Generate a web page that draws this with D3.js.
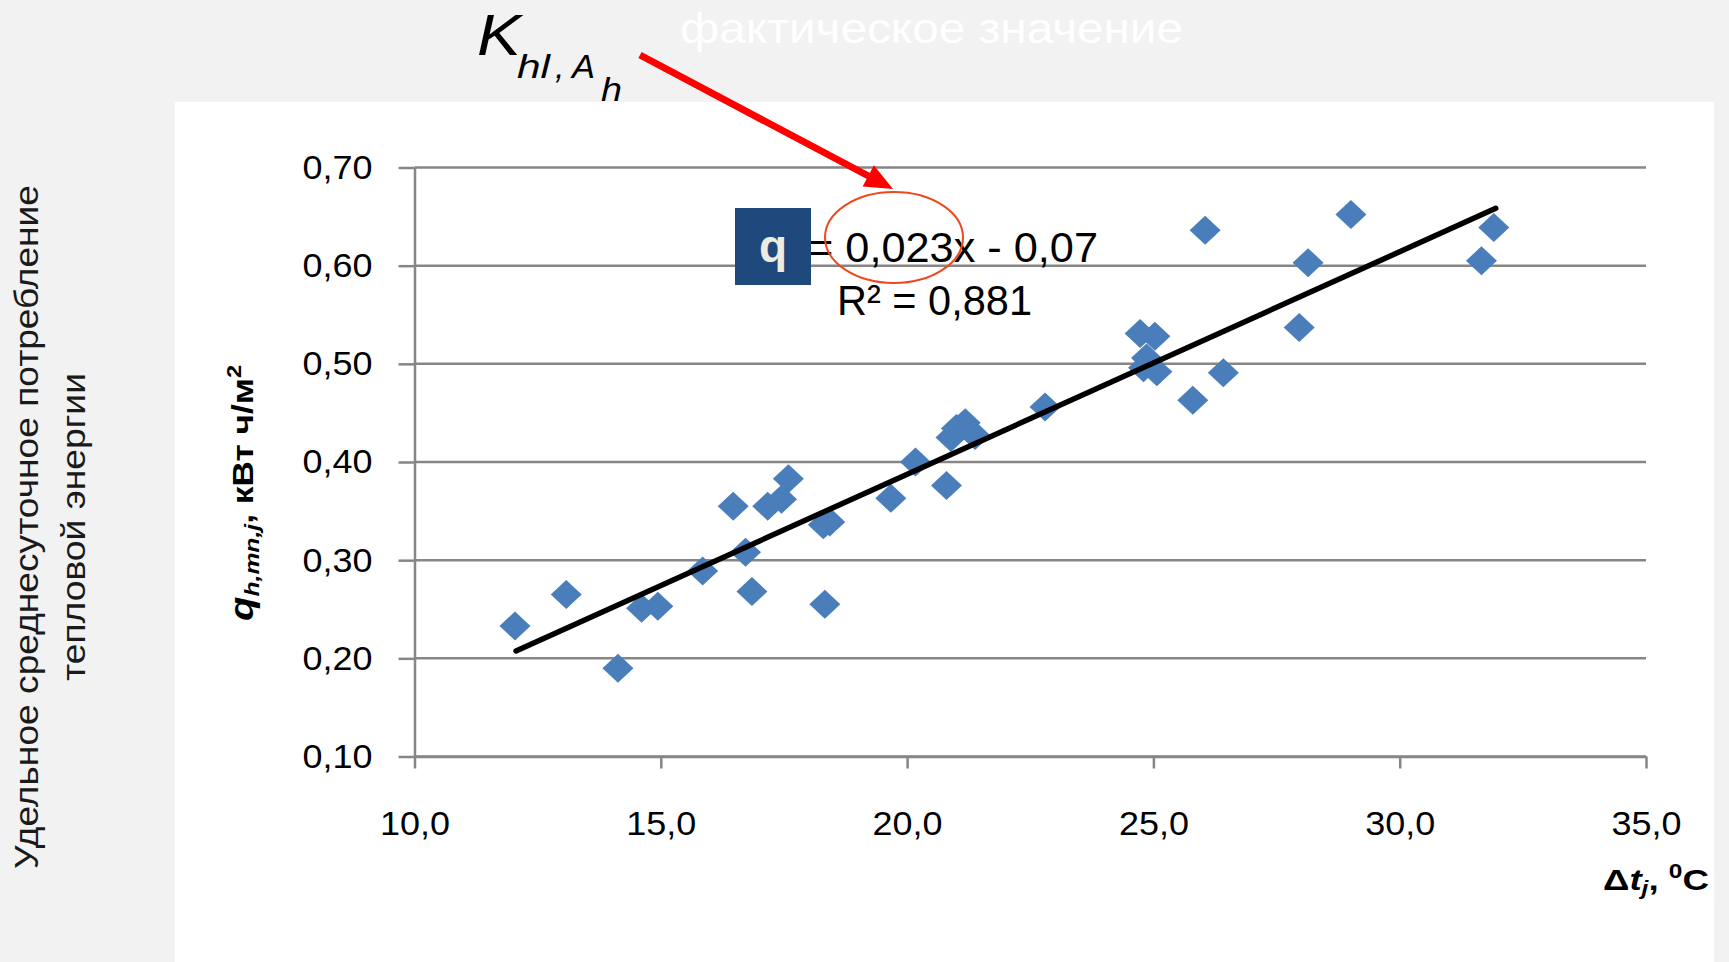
<!doctype html>
<html>
<head>
<meta charset="utf-8">
<script src="https://d3js.org/d3.v7.min.js"></script>
<style>
body { margin: 0; background: #f2f2f2; }
svg text { font-family: "Liberation Sans", Arial, sans-serif; }
</style>
</head>
<body>
<script>

// data
var dtValues = [12.04, 13.08, 14.13, 14.61, 14.94, 15.85, 16.47, 16.72, 16.85, 17.17, 17.45, 17.59,
                18.33, 18.30, 18.43, 19.67, 20.17, 20.80, 20.89, 21.00, 21.18, 21.38, 22.80,
                24.73, 25.03, 24.86, 24.80, 25.07, 25.80, 26.42, 26.05, 27.96, 28.14, 29.01, 31.66, 31.91];
var qValues  = [0.233, 0.265, 0.190, 0.251, 0.253, 0.289, 0.355, 0.308, 0.268, 0.355, 0.362, 0.383,
                0.255, 0.336, 0.339, 0.363, 0.400, 0.376, 0.425, 0.434, 0.440, 0.427, 0.456,
                0.531, 0.528, 0.506, 0.496, 0.492, 0.463, 0.491, 0.636, 0.537, 0.603, 0.652, 0.605, 0.639];

var xTicks = [10, 15, 20, 25, 30, 35];
var xTickLabels = ["10,0", "15,0", "20,0", "25,0", "30,0", "35,0"];
var yTicks = [0.1, 0.2, 0.3, 0.4, 0.5, 0.6, 0.7];
var yTickLabels = ["0,10", "0,20", "0,30", "0,40", "0,50", "0,60", "0,70"];

// trend line as drawn
var trendRange = [12.06, 31.95];
var trendSlope = 0.02267;
var trendIntercept = -0.0659;

var svg = d3.select("body").append("svg")
	.attr("width", 1729)
	.attr("height", 962);

svg.append("rect").attr("width", 1729).attr("height", 962).attr("fill", "#f2f2f2");
// white plot panel
svg.append("rect").attr("x", 175).attr("y", 102).attr("width", 1539).attr("height", 860).attr("fill", "#ffffff");

var x = d3.scaleLinear().domain([10, 35]).range([414.5, 1646]);
var y = d3.scaleLinear().domain([0.1, 0.7]).range([756.5, 167.5]);

// gridlines
svg.append("g").selectAll("line")
	.data(yTicks)
	.join("line")
	.attr("x1", x(10))
	.attr("x2", x(35))
	.attr("y1", function(d) { return y(d); })
	.attr("y2", function(d) { return y(d); })
	.attr("stroke", "#868686")
	.attr("stroke-width", 2.5);

// y axis
var yAxis = d3.axisLeft(y)
	.tickValues(yTicks)
	.tickSize(16)
	.tickSizeOuter(0)
	.tickPadding(26)
	.tickFormat(function(d, i) { return yTickLabels[i]; });

var gy = svg.append("g")
	.attr("transform", "translate(" + x(10) + ",0)")
	.call(yAxis);

// x axis
var xAxis = d3.axisBottom(x)
	.tickValues(xTicks)
	.tickSize(12)
	.tickSizeOuter(0)
	.tickPadding(42)
	.tickFormat(function(d, i) { return xTickLabels[i]; });

var gx = svg.append("g")
	.attr("transform", "translate(0," + y(0.1) + ")")
	.call(xAxis);

[gx, gy].forEach(function(g) {
	g.attr("font-size", null).attr("font-family", null);
	g.selectAll("path, line").attr("stroke", "#868686").attr("stroke-width", 2.5);
	g.selectAll("text")
		.attr("fill", "#000")
		.style("font-size", "34px")
		.attr("textLength", 70)
		.attr("lengthAdjust", "spacingAndGlyphs");
});

// points
svg.append("g").selectAll("path")
	.data(d3.zip(dtValues, qValues))
	.join("path")
	.attr("d", "M0,-14.5L15.5,0L0,14.5L-15.5,0Z")
	.attr("transform", function(d) { return "translate(" + x(d[0]) + "," + y(d[1]) + ")"; })
	.attr("fill", "#4a7ebb");

// trend line
var line = d3.line()
	.x(function(d) { return x(d); })
	.y(function(d) { return y(trendSlope * d + trendIntercept); });

svg.append("path")
	.attr("d", line(trendRange))
	.attr("fill", "none")
	.attr("stroke", "#000")
	.attr("stroke-width", 5.5)
	.attr("stroke-linecap", "round");

// equation
svg.append("text")
	.attr("x", 808).attr("y", 262)
	.style("font-size", "42px")
	.attr("textLength", 290).attr("lengthAdjust", "spacingAndGlyphs")
	.text("= 0,023x - 0,07");

svg.append("text")
	.attr("x", 837).attr("y", 315)
	.style("font-size", "42px")
	.attr("textLength", 195).attr("lengthAdjust", "spacingAndGlyphs")
	.text("R² = 0,881");

svg.append("rect")
	.attr("x", 735).attr("y", 208).attr("width", 76).attr("height", 77)
	.attr("fill", "#1f497d");

svg.append("text")
	.attr("x", 773).attr("y", 262)
	.attr("text-anchor", "middle")
	.style("font-size", "46px").style("font-weight", "bold")
	.attr("fill", "#eeece1")
	.text("q");

svg.append("ellipse")
	.attr("cx", 894).attr("cy", 237.5).attr("rx", 69).attr("ry", 45.5)
	.attr("fill", "none")
	.attr("stroke", "#f0481e")
	.attr("stroke-width", 2);

// red arrow
var arrowFrom = [640, 55], arrowTo = [893, 189];
var dx = arrowTo[0] - arrowFrom[0], dy = arrowTo[1] - arrowFrom[1];
var len = Math.sqrt(dx * dx + dy * dy);
var ux = dx / len, uy = dy / len;
var headL = 28, headW = 12;
var bx = arrowTo[0] - ux * headL, by = arrowTo[1] - uy * headL;

svg.append("line")
	.attr("x1", arrowFrom[0]).attr("y1", arrowFrom[1])
	.attr("x2", bx + ux * 4).attr("y2", by + uy * 4)
	.attr("stroke", "#ff0000")
	.attr("stroke-width", 7);

svg.append("path")
	.attr("d", "M" + arrowTo[0] + "," + arrowTo[1] +
		"L" + (bx - uy * headW) + "," + (by + ux * headW) +
		"L" + (bx + uy * headW) + "," + (by - ux * headW) + "Z")
	.attr("fill", "#ff0000");

// top labels
var k = svg.append("text").style("font-style", "italic").attr("fill", "#000");
k.append("tspan").attr("x", 477).attr("y", 55).style("font-size", "58px")
	.attr("textLength", 44).attr("lengthAdjust", "spacingAndGlyphs").text("K");
k.append("tspan").attr("x", 517).attr("y", 78).style("font-size", "34px")
	.attr("textLength", 33).attr("lengthAdjust", "spacingAndGlyphs").text("hl");
k.append("tspan").attr("x", 555).attr("y", 78).style("font-size", "34px").text(",");
k.append("tspan").attr("x", 572).attr("y", 78).style("font-size", "34px")
	.attr("textLength", 23).attr("lengthAdjust", "spacingAndGlyphs").text("A");
k.append("tspan").attr("x", 601).attr("y", 101).style("font-size", "34px")
	.attr("textLength", 21).attr("lengthAdjust", "spacingAndGlyphs").text("h");

svg.append("text")
	.attr("x", 680).attr("y", 43)
	.style("font-size", "42px")
	.attr("fill", "#ffffff")
	.attr("textLength", 503).attr("lengthAdjust", "spacingAndGlyphs")
	.text("фактическое значение");

// left caption
var cap = svg.append("text")
	.attr("transform", "translate(0,527) rotate(-90)")
	.attr("text-anchor", "middle")
	.style("font-size", "33px")
	.attr("fill", "#1a1a1a");
cap.append("tspan").attr("x", 0).attr("y", 38)
	.attr("textLength", 684).attr("lengthAdjust", "spacingAndGlyphs")
	.text("Удельное среднесуточное потребление");
cap.append("tspan").attr("x", 0).attr("y", 85)
	.attr("textLength", 308).attr("lengthAdjust", "spacingAndGlyphs")
	.text("тепловой энергии");

// y axis title
var yt = svg.append("text")
	.attr("transform", "translate(253,493) rotate(-90)")
	.attr("text-anchor", "middle")
	.style("font-weight", "bold")
	.style("font-size", "30px")
	.attr("textLength", 256).attr("lengthAdjust", "spacingAndGlyphs");
yt.append("tspan").style("font-style", "italic").style("font-size", "34px").text("q");
yt.append("tspan").style("font-style", "italic").style("font-size", "21px").attr("dy", 6).text("h,mn,j");
yt.append("tspan").attr("dy", -6).text(", кВт ч/м");
yt.append("tspan").style("font-size", "20px").attr("dy", -12).text("2");

// x axis title
var xt = svg.append("text")
	.attr("x", 1709).attr("y", 890)
	.attr("text-anchor", "end")
	.style("font-weight", "bold")
	.style("font-size", "30px")
	.attr("textLength", 106).attr("lengthAdjust", "spacingAndGlyphs");
xt.append("tspan").text("Δ");
xt.append("tspan").style("font-style", "italic").text("t");
xt.append("tspan").style("font-style", "italic").style("font-size", "20px").attr("dy", 5).text("j");
xt.append("tspan").attr("dy", -5).text(", ");
xt.append("tspan").style("font-size", "20px").attr("dy", -12).text("0");
xt.append("tspan").attr("dy", 12).text("C");

</script>
</body>
</html>
